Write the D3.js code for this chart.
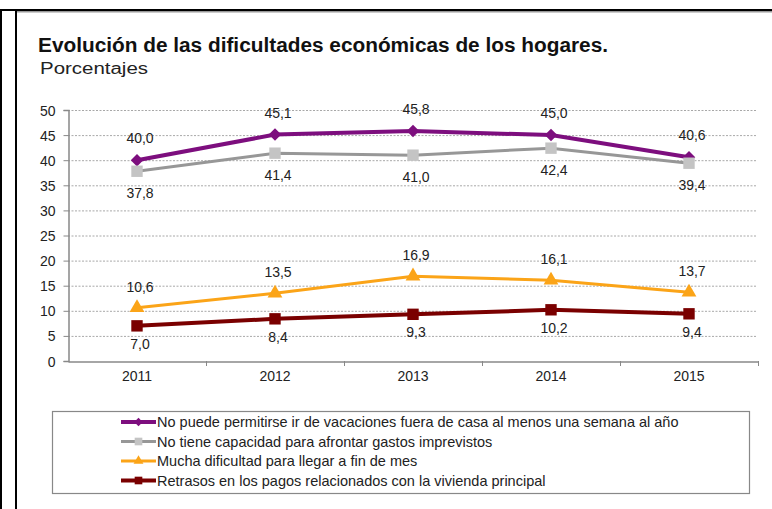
<!DOCTYPE html>
<html><head><meta charset="utf-8">
<script src="https://cdn.jsdelivr.net/npm/d3@7"></script>
<style>body{margin:0;background:#fff}svg{display:block;font-family:Arial,"Liberation Sans",sans-serif}</style>
</head><body><svg id="c" width="772" height="509"></svg>
<script>
const years = ["2011","2012","2013","2014","2015"];
const seriesNames = [
  "No puede permitirse ir de vacaciones fuera de casa al menos una semana al año",
  "No tiene capacidad para afrontar gastos imprevistos",
  "Mucha dificultad para llegar a fin de mes",
  "Retrasos en los pagos relacionados con la vivienda principal"
];
const vacaciones = [40.0, 45.1, 45.8, 45.0, 40.6];
const imprevistos = [37.8, 41.4, 41.0, 42.4, 39.4];
const finDeMes = [10.6, 13.5, 16.9, 16.1, 13.7];
const retrasos = [7.0, 8.4, 9.3, 10.2, 9.4];
const yTicks = [0,5,10,15,20,25,30,35,40,45,50];

const svg = d3.select("#c");
// outer frame
svg.append("rect").attr("x",0).attr("y",9).attr("width",2).attr("height",500).attr("fill","#000");
svg.append("rect").attr("x",0).attr("y",9).attr("width",772).attr("height",2).attr("fill","#000");
svg.append("rect").attr("x",16).attr("y",11).attr("width",756).attr("height",1.5).attr("fill","#999");
svg.append("rect").attr("x",15).attr("y",9).attr("width",2).attr("height",500).attr("fill","#000");

svg.append("text").attr("x",38).attr("y",52).attr("font-size",19.5).attr("font-weight","bold").attr("fill","#111")
  .attr("textLength",570).attr("lengthAdjust","spacingAndGlyphs")
  .text("Evolución de las dificultades económicas de los hogares.");
svg.append("text").attr("x",40).attr("y",73.5).attr("font-size",16).attr("fill","#222")
  .attr("textLength",108).attr("lengthAdjust","spacingAndGlyphs").text("Porcentajes");

const x = d3.scaleBand().domain(years).range([68,758]);
const y = d3.scaleLinear().domain([0,50]).range([361,110]);

// grid
svg.append("g").selectAll("line").data(yTicks.filter(d=>d>0)).join("line")
  .attr("x1",68).attr("x2",757).attr("y1",d=>y(d)+0.5).attr("y2",d=>y(d)+0.5)
  .attr("stroke","#a8a8a8").attr("stroke-width",1).attr("stroke-dasharray","2,1.5");

// y axis
const ya = svg.append("g").attr("transform","translate(68.5,0)")
  .call(d3.axisLeft(y).tickValues(yTicks).tickSize(5).tickPadding(8).tickFormat(d3.format("d")));
ya.attr("font-size",null).attr("font-family",null);
ya.select(".domain").attr("stroke","#888").attr("stroke-width",1.5);
ya.selectAll(".tick line").attr("stroke","#888");
ya.selectAll("text").attr("font-size",14).attr("fill","#222").attr("dy","0.36em");

// x axis
const xa = svg.append("g").attr("transform","translate(0,361.5)")
  .call(d3.axisBottom(x).tickSize(0).tickPadding(10));
xa.attr("font-size",null).attr("font-family",null);
xa.select(".domain").attr("stroke","#888").attr("stroke-width",1.5);
xa.selectAll("text").attr("font-size",14).attr("fill","#222");
svg.append("g").selectAll("line").data(years).join("line")
  .attr("x1",(d,i)=>x.range()[0]+x.step()*(i+1)+0.5).attr("x2",(d,i)=>x.range()[0]+x.step()*(i+1)+0.5)
  .attr("y1",361).attr("y2",366).attr("stroke","#888");

const cx = d => x(d)+x.bandwidth()/2;
const series = [
  {vals: vacaciones, line:"#7D0E7E", mark:"#7D0E7E", sym:d3.symbolDiamond2, size:100, w:4, lab:-22},
  {vals: imprevistos, line:"#979797", mark:"#C4C4C4", sym:d3.symbolSquare, size:130, w:3, lab:22},
  {vals: finDeMes, line:"#FBA418", mark:"#FBA418", sym:d3.symbolTriangle, size:95, w:3, lab:-21},
  {vals: retrasos, line:"#7A0000", mark:"#7A0000", sym:d3.symbolSquare, size:130, w:4, lab:18}
];
const line = d3.line().x((d,i)=>cx(years[i])).y(d=>y(d));
series.forEach(s=>{
  svg.append("path").attr("d",line(s.vals)).attr("fill","none").attr("stroke",s.line).attr("stroke-width",s.w);
});
series.forEach(s=>{
  svg.append("g").selectAll("path").data(s.vals).join("path")
    .attr("transform",(d,i)=>`translate(${cx(years[i])},${y(d)})`)
    .attr("d",d3.symbol(s.sym,s.size)).attr("fill",s.mark);
  svg.append("g").selectAll("text").data(s.vals).join("text")
    .attr("x",(d,i)=>cx(years[i])+3).attr("y",d=>y(d)+s.lab+5)
    .attr("text-anchor","middle").attr("font-size",14).attr("fill","#222")
    .text(d=>d3.format(".1f")(d).replace(".",","));
});

// legend
svg.append("rect").attr("x",52.5).attr("y",411.5).attr("width",697).attr("height",82)
  .attr("fill","#fff").attr("stroke","#888").attr("stroke-width",1.2);
series.forEach((s,i)=>{
  const ly = 422 + i*19.5;
  const g = svg.append("g").attr("transform",`translate(0,${ly})`);
  g.append("line").attr("x1",121).attr("x2",156).attr("y1",0).attr("y2",0).attr("stroke",s.line).attr("stroke-width",s.w);
  g.append("path").attr("transform","translate(138.5,0)").attr("d",d3.symbol(s.sym,s.size*0.45)).attr("fill",s.mark);
  g.append("text").attr("x",157).attr("y",5).attr("font-size",14.5).attr("fill","#222").text(seriesNames[i]);
});
</script></body></html>
